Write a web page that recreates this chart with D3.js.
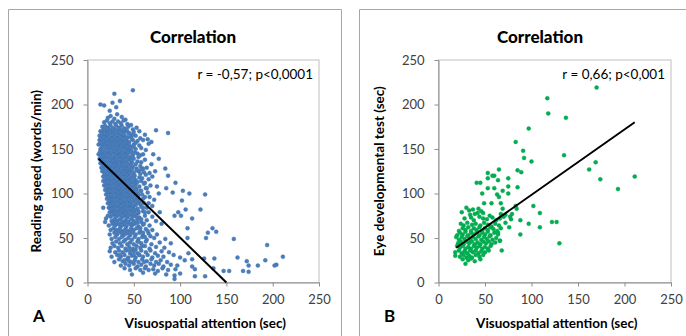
<!DOCTYPE html>
<html><head><meta charset="utf-8">
<script src="https://cdn.jsdelivr.net/npm/d3@7"></script>
<style>html,body{margin:0;padding:0;background:#fff;}svg{display:block;}</style>
</head><body>
<script>
// ---------- DATA ----------
const xTicks = [0, 50, 100, 150, 200, 250];
const yTicks = [0, 50, 100, 150, 200, 250];
const panelTitles = ["Correlation", "Correlation"];
const panelLetters = ["A", "B"];
const xLabels = ["Visuospatial attention (sec)", "Visuospatial attention (sec)"];
const yLabels = ["Reading speed (words/min)", "Eye developmental test (sec)"];
const statTexts = ["r = -0,57; p<0,0001", "r = 0,66; p<0,001"];

// Panel A: visuospatial attention (sec) vs reading speed (words/min)
const readingPoints = [
[14,200],[18,199],[29,212],[49,216],[27,202],[35,204],[31,197],[24,193],
[22,185],[25,187],[29,184],[32,189],[37,186],[41,183],
[18,180],[21,182],[24,179],[27,181],[30,178],[33,181],[36,179],[39,182],[43,178],[47,177],
[16,175],[19,176],[22,174],[25,176],[28,173],[31,176],[34,174],[37,176],[40,173],[44,175],[49,172],[53,174],
[14,170],[17,171],[20,169],[23,171],[26,168],[29,170],[32,168],[35,171],[38,169],[41,170],[45,168],[50,169],[56,170],[74,171],[87,168],
[13,165],[16,166],[19,164],[22,166],[25,163],[28,165],[31,163],[34,166],[37,164],[40,165],[43,163],[47,164],[52,165],[57,162],[62,166],[65,161],
[13,160],[15,158],[18,161],[21,159],[24,161],[27,158],[30,160],[33,158],[36,161],[39,159],[42,160],[45,158],[49,160],[54,159],[60,160],[69,158],
[12,155],[16,154],[19,156],[22,153],[25,155],[28,153],[31,156],[34,154],[37,155],[40,153],[43,156],[46,153],[50,155],[56,154],[66,156],
[14,150],[17,148],[20,151],[23,149],[26,151],[29,148],[32,150],[35,148],[38,151],[41,149],[44,150],[47,148],[52,150],[58,151],[63,149],
[12,144],[15,145],[18,143],[21,146],[24,144],[27,146],[30,143],[33,145],[36,143],[39,146],[42,144],[45,146],[49,143],[54,145],[60,144],[71,144],
[13,139],[16,141],[19,139],[22,141],[25,138],[28,140],[31,138],[34,141],[37,139],[40,141],[43,138],[46,140],[50,139],[55,141],[62,138],[77,139],
[14,134],[17,136],[20,134],[23,136],[26,133],[29,135],[32,133],[35,136],[38,134],[41,136],[44,133],[48,135],[52,133],[58,135],[69,133],
[15,129],[18,131],[21,129],[24,131],[27,128],[30,130],[33,128],[36,131],[39,129],[42,131],[45,128],[49,130],[53,128],[57,131],[64,129],[84,128],
[16,125],[19,123],[22,126],[25,124],[28,126],[31,123],[34,125],[37,123],[40,126],[43,124],[46,126],[50,123],[55,125],[61,124],[73,125],[87,120],
[17,119],[20,121],[23,119],[26,121],[29,118],[32,120],[35,118],[38,121],[41,119],[44,121],[47,118],[51,120],[56,118],[63,121],[70,119],
[17,114],[21,116],[24,114],[27,116],[30,113],[33,115],[36,113],[39,116],[42,114],[45,116],[48,113],[52,115],[58,114],[66,116],[95,112],
[18,109],[21,111],[24,109],[27,111],[30,108],[33,110],[36,108],[39,111],[42,109],[45,111],[48,108],[52,110],[56,108],[61,111],[68,109],[75,108],
[19,104],[22,106],[25,104],[28,106],[31,103],[34,105],[37,103],[40,106],[43,104],[46,106],[49,103],[53,105],[57,103],[63,106],[85,106],[103,103],
[20,99],[23,101],[26,99],[29,101],[32,98],[35,100],[38,98],[41,101],[44,99],[47,101],[50,98],[54,100],[59,99],[65,101],[77,100],[92,101],[110,100],[127,99],
[21,94],[24,96],[27,94],[30,96],[33,93],[36,95],[39,93],[42,96],[45,94],[48,96],[51,93],[55,95],[60,94],[67,96],[72,93],
[22,89],[25,91],[28,89],[31,91],[34,88],[37,90],[40,88],[43,91],[46,89],[49,91],[52,88],[56,90],[61,89],[102,92],
[17,84],[23,84],[26,86],[29,84],[32,86],[35,83],[38,85],[41,83],[44,86],[47,84],[50,86],[54,83],[58,85],[64,84],[70,86],[106,82],[122,82],
[24,79],[27,81],[30,79],[33,81],[36,78],[39,80],[42,78],[45,81],[48,79],[51,81],[55,78],[60,80],[66,79],[78,79],[98,79],
[20,72],[22,75],[25,74],[28,76],[31,74],[34,76],[37,73],[40,75],[43,73],[46,76],[49,74],[52,76],[56,73],[62,75],[70,74],[94,75],[101,75],[113,72],
[19,68],[26,69],[29,71],[32,69],[35,71],[38,68],[41,70],[44,68],[47,71],[50,69],[54,71],[58,68],[64,70],[74,69],
[23,64],[27,66],[30,64],[33,66],[36,63],[39,65],[42,63],[45,66],[48,64],[51,66],[55,63],[60,65],[67,64],[80,66],[108,61],
[25,59],[28,61],[31,59],[35,61],[38,58],[41,60],[44,58],[47,61],[50,59],[53,61],[57,58],[63,60],[70,59],[135,61],
[24,54],[29,56],[32,54],[36,56],[39,53],[42,55],[46,53],[49,56],[52,54],[56,56],[60,53],[66,55],[75,54],[139,57],[130,56],
[26,49],[30,51],[34,49],[37,51],[41,48],[44,50],[48,48],[51,51],[55,49],[59,51],[64,48],[72,50],[84,49],[108,50],[128,50],[158,49],
[27,44],[31,46],[35,44],[39,46],[43,43],[46,45],[50,43],[54,46],[58,44],[63,46],[69,43],[78,45],[90,44],[194,42],
[25,39],[29,41],[33,39],[37,41],[41,38],[45,40],[49,38],[53,41],[57,39],[62,41],[67,38],[74,40],[83,39],
[24,35],[30,34],[34,36],[38,34],[42,36],[46,33],[50,35],[54,33],[58,36],[63,34],[68,36],[73,33],[80,35],[88,34],[109,33],
[26,29],[32,31],[36,29],[40,31],[44,28],[48,30],[52,28],[56,31],[60,29],[65,31],[70,28],[76,30],[82,29],[93,31],[100,28],
[29,23],[34,26],[38,24],[43,26],[47,23],[51,25],[55,23],[59,26],[64,24],[69,26],[74,23],[79,25],[86,23],[105,25],[113,26],[126,27],[137,27],[162,28],[172,24],[192,25],[211,29],
[36,19],[41,21],[45,19],[50,21],[54,18],[58,20],[63,18],[68,21],[72,19],[77,21],[82,18],[90,20],[97,19],[113,18],[174,19],[184,19],[204,20],[202,19],
[40,16],[46,14],[52,16],[57,14],[62,16],[66,14],[71,15],[76,13],[81,16],[87,14],[95,15],[116,15],[136,16],[147,13],[153,13],[168,13],[174,12],
[48,9],[60,11],[73,10],[85,9],[94,8],[100,10],[116,7],[127,7],[94,4],
// denser core
[18.5,172],[21.5,173],[24.5,171],[27.5,173],[30.5,171],[33.5,173],[36.5,171],[39.5,172],[42.5,171],
[15.5,167],[18.5,168],[21.5,166],[24.5,168],[27.5,166],[30.5,168],[33.5,166],[36.5,168],[39.5,166],[44.5,167],[48.5,166],
[14.5,162],[17.5,163],[20.5,161],[23.5,163],[26.5,161],[29.5,163],[32.5,161],[35.5,163],[38.5,161],[41.5,162],[47.5,162],
[14,157],[17.5,158],[20.5,156],[23.5,158],[26.5,156],[29.5,158],[32.5,156],[35.5,158],[38.5,156],[41.5,158],[44.5,156],[52,157],
[15.5,152],[18.5,153],[21.5,151],[24.5,153],[27.5,151],[30.5,153],[33.5,151],[36.5,153],[39.5,151],[42.5,153],[46,151],[50,152],
[13.5,147],[16.5,148],[19.5,146],[22.5,148],[25.5,146],[28.5,148],[31.5,146],[34.5,148],[37.5,146],[40.5,148],[43.5,146],[47.5,147],
[14.5,142],[17.5,143],[20.5,141],[23.5,143],[26.5,141],[29.5,143],[32.5,141],[35.5,143],[38.5,141],[41.5,143],[44.5,141],[48,142],
[15.5,137],[18.5,138],[21.5,136],[24.5,138],[27.5,136],[30.5,138],[33.5,136],[36.5,138],[39.5,136],[42.5,138],[46.5,137],
[16.5,132],[19.5,133],[22.5,131],[25.5,133],[28.5,131],[31.5,133],[34.5,131],[37.5,133],[40.5,131],[43.5,133],[47,132],
[17.5,127],[20.5,128],[23.5,126],[26.5,128],[29.5,126],[32.5,128],[35.5,126],[38.5,128],[41.5,126],[44.5,128],[48,127],
[18.5,122],[21.5,123],[24.5,121],[27.5,123],[30.5,121],[33.5,123],[36.5,121],[39.5,123],[42.5,121],[45.5,123],[49,122],
[19,117],[22.5,118],[25.5,116],[28.5,118],[31.5,116],[34.5,118],[37.5,116],[40.5,118],[43.5,116],[46.5,118],[50,117],
[19.5,112],[22.5,113],[25.5,111],[28.5,113],[31.5,111],[34.5,113],[37.5,111],[40.5,113],[43.5,111],[46.5,113],[50,112],
[20.5,107],[23.5,108],[26.5,106],[29.5,108],[32.5,106],[35.5,108],[38.5,106],[41.5,108],[44.5,106],[47.5,108],[51,107],
[21.5,102],[24.5,103],[27.5,101],[30.5,103],[33.5,101],[36.5,103],[39.5,101],[42.5,103],[45.5,101],[48.5,103],[52,102],
[22.5,97],[25.5,98],[28.5,96],[31.5,98],[34.5,96],[37.5,98],[40.5,96],[43.5,98],[46.5,96],[49.5,98],[53,97],
[23.5,92],[26.5,93],[29.5,91],[32.5,93],[35.5,91],[38.5,93],[41.5,91],[44.5,93],[47.5,91],[50.5,93],[54,92],
[24.5,87],[27.5,88],[30.5,86],[33.5,88],[36.5,86],[39.5,88],[42.5,86],[45.5,88],[48.5,86],[52,87],
[25.5,82],[28.5,83],[31.5,81],[34.5,83],[37.5,81],[40.5,83],[43.5,81],[46.5,83],[50,82],
[26.5,77],[29.5,78],[32.5,76],[35.5,78],[38.5,76],[41.5,78],[44.5,76],[47.5,78],[51,77],
[28.5,67],[31.5,68],[34.5,66],[37.5,68],[40.5,66],[43.5,68],[46.5,66],[50,67],
[30.5,57],[33.5,58],[37.5,56],[40.5,58],[43.5,56],[47.5,57],
// mid-density flank
[53,126],[57,122],[60,128],[54,113],[59,117],[62,112],[55,98],[58,103],[62,96],[53,92],[57,88],[60,84],
[55,80],[62,79],[53,74],[58,71],[61,66],[54,67],[57,61],[60,56],[62,51],[55,46],[59,41],[52,37],[56,31],
[61,23],[45,24],[40,25],[35,31],[50,31],[46,36],[65,58],[68,52],[66,89],[64,106],[67,123],[54,136],[57,143],[51,146],[58,127]
];
const readingFit = [[12, 139], [150, 0]];

// Panel B: visuospatial attention (sec) vs eye developmental test (sec)
const eyePoints = [
[170,219],[117,207],[118,190],[137,185],[97,173],[83,158],[91,148],[92,140],[100,136],[135,143],
[162,127],[169,135],[174,116],[193,105],[211,119],[102,86],[109,78],[122,68],[127,68],[130,44],
[109,62],[97,66],[83,86],[85,126],[89,124],[85,107],[75,117],[65,127],[75,108],[75,100],[69,103],
[64,115],[60,120],[53,123],[53,117],[58,120],[60,106],[53,106],[63,99],[65,96],[67,89],[69,83],
[47,100],[45,112],[41,112],[49,89],[57,89],[48,78],[79,77],[78,71],[76,62],[88,70],[88,54],
[68,36],[66,47],[64,56],[72,76],[77,74],[67,77],[84,83],
[25,79],[30,84],[33,81],[37,82],[39,77],[43,83],[46,80],[42,78],[34,76],
[28,72],[35,73],[38,70],[44,74],[48,72],[52,71],[55,75],[58,73],[62,70],[66,72],[70,74],
[24,66],[27,64],[31,67],[36,65],[40,66],[45,64],[49,67],[53,65],[57,63],[61,66],[65,64],[72,67],
[22,58],[26,61],[29,59],[32,62],[35,58],[38,61],[41,59],[44,62],[47,58],[50,61],[53,59],[56,62],[59,60],[63,58],[67,61],
[20,53],[23,56],[26,54],[29,57],[32,53],[35,56],[38,54],[41,57],[44,53],[47,56],[50,54],[53,57],[56,53],[60,56],[64,54],
[19,51],[22,48],[25,51],[28,49],[31,52],[34,48],[37,51],[40,49],[43,52],[46,48],[49,51],[52,49],[55,52],[58,48],[62,50],[66,47],
[21,44],[24,46],[27,43],[30,46],[33,44],[36,46],[39,43],[42,45],[45,43],[48,46],[51,44],[54,46],[57,43],[61,45],
[20,41],[23,39],[26,41],[29,38],[32,40],[35,38],[38,41],[41,39],[44,41],[47,38],[50,40],[53,38],[56,41],
[18,34],[22,36],[25,33],[28,35],[31,33],[34,36],[37,34],[40,36],[43,33],[46,35],[50,34],[54,36],
[18,30],[23,29],[27,31],[30,28],[33,30],[36,28],[40,31],[44,29],[48,31],
[26,26],[29,21],[32,25],[35,27],[39,24],[45,26]
];
const eyeFit = [[19, 39], [211, 180]];

// ---------- DRAW ----------
const W = 686, H = 336;
const FONT = "Lato, 'Open Sans', 'DejaVu Sans', sans-serif";
const svg = d3.select("body").append("svg").attr("width", W).attr("height", H);

const panels = [
  {frame: [8.5, 9.5, 341.5], plot: {l: 87.5, r: 319, t: 60, b: 282.5},
   points: readingPoints, fit: readingFit, color: "#4a7ebb", stroke: "#3f6fae",
   title: panelTitles[0], letter: panelLetters[0], xl: xLabels[0], yl: yLabels[0], stat: statTexts[0],
   titleX: 193, yLabX: 37, letterX: 33},
  {frame: [359.5, 9.5, 700], plot: {l: 438.5, r: 671, t: 60, b: 282.5},
   points: eyePoints, fit: eyeFit, color: "#00b050", stroke: "#00a048",
   title: panelTitles[1], letter: panelLetters[1], xl: xLabels[1], yl: yLabels[1], stat: statTexts[1],
   titleX: 540, yLabX: 380, letterX: 384}
];

panels.forEach(p => {
  const g = svg.append("g");
  g.append("path")
    .attr("d", `M${p.frame[0]},${H + 2}V${p.frame[1]}H${p.frame[2]}V${H + 2}`)
    .attr("fill", "none").attr("stroke", "#a6a6a6").attr("stroke-width", 1);

  const x = d3.scaleLinear().domain([0, 250]).range([p.plot.l, p.plot.r]);
  const y = d3.scaleLinear().domain([0, 250]).range([p.plot.b, p.plot.t]);

  g.append("rect").attr("x", p.plot.l).attr("y", p.plot.t)
    .attr("width", p.plot.r - p.plot.l).attr("height", p.plot.b - p.plot.t)
    .attr("fill", "none").attr("stroke", "#bfbfbf").attr("stroke-width", 1);

  const xAxis = g.append("g").attr("transform", `translate(0,${p.plot.b})`)
    .call(d3.axisBottom(x).tickValues(xTicks).tickSizeInner(4).tickSizeOuter(0).tickPadding(8));
  const yAxis = g.append("g").attr("transform", `translate(${p.plot.l},0)`)
    .call(d3.axisLeft(y).tickValues(yTicks).tickSizeInner(4).tickSizeOuter(0).tickPadding(10));
  [xAxis, yAxis].forEach(a => {
    a.select(".domain").attr("stroke", "#8c8c8c");
    a.selectAll(".tick line").attr("stroke", "#8c8c8c");
    a.selectAll(".tick text").attr("fill", "#404040").attr("font-family", FONT).attr("font-size", 13);
  });

  g.append("g").selectAll("circle").data(p.points).join("circle")
    .attr("cx", d => x(d[0])).attr("cy", d => y(d[1])).attr("r", 2)
    .attr("fill", p.color).attr("stroke", p.stroke).attr("stroke-width", 0.4);

  g.append("path").datum(p.fit)
    .attr("d", d3.line().x(d => x(d[0])).y(d => y(d[1])))
    .attr("stroke", "#000").attr("stroke-width", 2).attr("fill", "none");

  g.append("text").attr("x", p.titleX).attr("y", 43).attr("text-anchor", "middle")
    .attr("font-family", FONT).attr("font-weight", 900).attr("font-size", 17).attr("fill", "#000")
    .text(p.title);
  g.append("text").attr("x", p.plot.r - 6).attr("y", 79).attr("text-anchor", "end")
    .attr("font-family", FONT).attr("font-size", 13.5).attr("fill", "#000").text(p.stat);
  g.append("text").attr("x", (p.plot.l + p.plot.r) / 2 + 2).attr("y", 328).attr("text-anchor", "middle")
    .attr("font-family", FONT).attr("font-weight", "bold").attr("font-size", 13.5).attr("fill", "#000")
    .text(p.xl);
  g.append("text").attr("transform", `translate(${p.yLabX + 4},${(p.plot.t + p.plot.b) / 2}) rotate(-90)`)
    .attr("text-anchor", "middle")
    .attr("font-family", FONT).attr("font-weight", "bold").attr("font-size", 13.5).attr("fill", "#000")
    .text(p.yl);
  g.append("text").attr("x", p.letterX).attr("y", 322)
    .attr("font-family", FONT).attr("font-weight", "bold").attr("font-size", 17).attr("fill", "#000")
    .text(p.letter);
});
</script>
</body></html>
